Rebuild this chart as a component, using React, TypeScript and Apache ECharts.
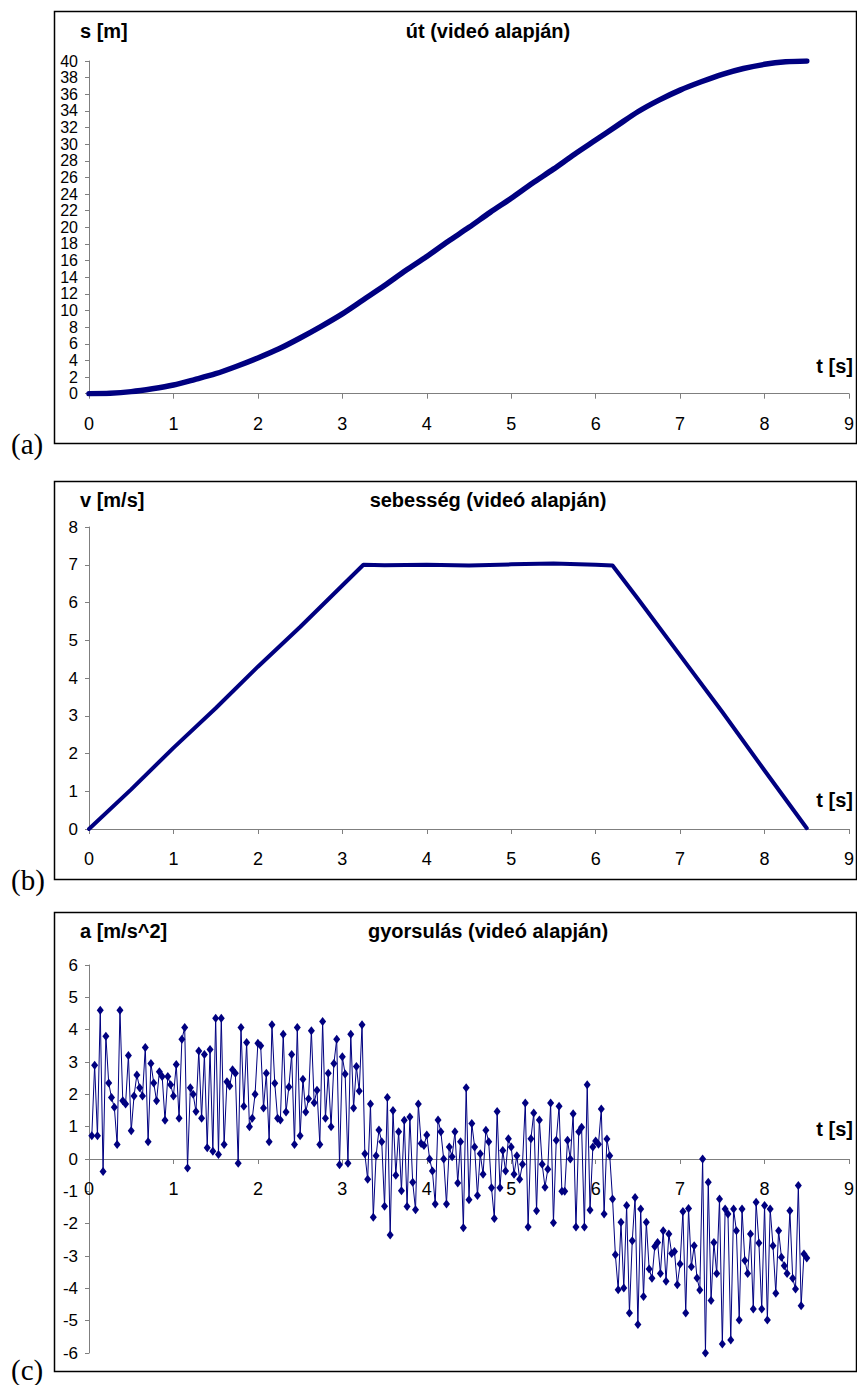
import { useEffect, useRef } from "react";
import * as echarts from "echarts";

// ---------- data ----------
const timeTicks = [0, 1, 2, 3, 4, 5, 6, 7, 8, 9];

// (a) path s [m] vs t [s]
const sTime = [0, 0.25, 0.5, 0.75, 1, 1.25, 1.5, 1.75, 2, 2.25, 2.5, 2.75, 3, 3.25, 3.5, 3.75, 4, 4.25, 4.5, 4.75, 5, 5.25, 5.5, 5.75, 6, 6.25, 6.5, 6.75, 7, 7.25, 7.5, 7.75, 8, 8.25, 8.5];
const sValues = [0, 0.05, 0.25, 0.6, 1.05, 1.7, 2.4, 3.3, 4.3, 5.4, 6.7, 8.1, 9.6, 11.3, 13.0, 14.8, 16.5, 18.3, 20.0, 21.8, 23.5, 25.3, 27.0, 28.8, 30.5, 32.2, 33.9, 35.3, 36.5, 37.5, 38.4, 39.1, 39.6, 39.9, 40.0];

// (b) velocity v [m/s] vs t [s]
const vTime = [0, 0.5, 1, 1.5, 2, 2.5, 3, 3.25, 3.5, 4, 4.5, 5, 5.5, 6, 6.2, 6.5, 7, 7.5, 8, 8.5];
const vValues = [0, 1.05, 2.15, 3.2, 4.3, 5.35, 6.45, 7.0, 6.99, 7.0, 6.98, 7.01, 7.03, 7.0, 6.98, 6.1, 4.6, 3.1, 1.55, 0.02];

// (c) acceleration a [m/s^2], one sample per video frame (30 fps)
const accStep = 1 / 30;
const accSeg0 = [0.72, 2.9, 0.72, 4.6, -0.39, 3.8, 2.35, 1.9, 1.6, 0.45, 4.6, 1.8, 1.7, 3.2, 0.87, 1.95, 2.6, 2.2, 1.95, 3.45, 0.53, 2.95, 2.35, 1.8, 2.7, 2.55, 1.2, 2.55, 2.3, 1.95];
const accSeg1 = [2.92, 1.26, 3.7, 4.07, -0.28, 2.2, 2.0, 1.47, 3.34, 1.26, 3.23, 0.35, 3.39, 0.24, 4.35, 0.14, 4.35, 0.45, 2.39, 2.26, 2.76, 2.65, -0.13, 4.07, 1.63, 3.6, 1.0, 1.26, 2.0, 3.58];
const accSeg2 = [3.5, 1.58, 2.65, 0.53, 4.15, 2.34, 1.26, 1.21, 3.86, 1.45, 2.23, 3.23, 0.45, 4.07, 0.72, 2.47, 1.45, 1.86, 3.97, 1.74, 2.13, 0.45, 4.25, 1.26, 2.65, 1.0, 2.95, 3.7, -0.18, 3.16];
const accSeg3 = [2.63, -0.13, 3.86, 1.58, 2.86, 2.1, 4.15, 0.16, -0.63, 1.7, -1.8, 0.1, 0.9, 0.53, -1.46, 1.9, -2.35, 1.5, -0.5, 0.84, -0.98, 1.2, -1.47, 1.3, -0.72, -1.57, 1.7, 0.48, 0.42, 0.74];
const accSeg4 = [0, -0.37, -1.39, 1.21, 0.84, 0, -1.39, 0.37, 0.07, 0.84, -0.74, 0.53, -2.13, 2.2, -1.26, 1.1, 0.37, -1.13, 0.16, -0.47, 0.89, 0.53, -0.89, -1.84, 1.47, -0.89, 0.26, -0.37, 0.63, 0.37];
const accSeg5 = [-0.47, 0.1, -0.63, -0.16, 1.73, -2.1, 0.63, 1.42, -1.6, 1.21, -0.16, -0.87, -0.32, 1.73, -1.97, 0.58, 1.63, -1.0, -1.0, 0.58, 0, 1.4, -2.1, 0.84, 0.98, -2.1, 2.3, -1.58, 0.37, 0.56];
const accSeg6 = [0.46, 1.55, -1.7, 0.62, 0.1, -1.24, -2.96, -4.04, -1.96, -3.99, -1.44, -4.76, -2.53, -1.19, -5.12, -1.55, -4.25, -1.96, -3.4, -3.69, -2.71, -2.58, -3.54, -2.22, -3.78, -2.32, -2.92, -2.86, -3.89, -3.25];
const accSeg7 = [-1.62, -4.76, -1.53, -3.33, -2.68, -3.68, -4.05, 0, -6.0, -0.72, -4.38, -2.58, -3.54, -1.24, -5.72, -1.55, -1.7, -5.6, -1.55, -2.22, -4.98, -1.55, -3.14, -3.54, -2.32, -4.64, -1.34, -2.6, -4.64, -1.44];
const accSeg8 = [-4.98, -1.55, -2.68, -4.15, -2.22, -3.04, -3.3, -3.54, -1.6, -3.69, -4.02, -0.82, -4.54, -2.94, -3.06];

const titles = ["út (videó alapján)", "sebesség (videó alapján)", "gyorsulás (videó alapján)"];
const yNames = ["s [m]", "v [m/s]", "a [m/s^2]"];
const xName = "t [s]";
const panelLabels = ["(a)", "(b)", "(c)"];

// ---------- helpers ----------
const NAVY = "#000080";
const AXIS = "#7f7f7f";
const SANS = "Arial";
const SERIF = "Times New Roman";

function xAxisFor(gridIndex: number, offset: number) {
  return {
    type: "value",
    gridIndex,
    min: timeTicks[0],
    max: timeTicks[timeTicks.length - 1],
    interval: 1,
    offset,
    axisLine: { show: true, onZero: false, lineStyle: { color: AXIS, width: 1 } },
    axisTick: { show: true, inside: false, length: 5, lineStyle: { color: AXIS } },
    axisLabel: { fontFamily: SANS, fontSize: 18, color: "#000", margin: 21, showMinLabel: true, showMaxLabel: true },
    splitLine: { show: false },
  };
}

function yAxisFor(gridIndex: number, min: number, max: number, interval: number, fontSize: number) {
  return {
    type: "value",
    gridIndex,
    min,
    max,
    interval,
    axisLine: { show: true, onZero: false, lineStyle: { color: AXIS, width: 1 } },
    axisTick: { show: true, inside: false, length: 4, lineStyle: { color: AXIS } },
    axisLabel: { fontFamily: SANS, fontSize, lineHeight: fontSize, color: "#000", margin: 11, showMinLabel: true, showMaxLabel: true },
    splitLine: { show: false },
  };
}

const boxes = [
  { top: 11.5, bottom: 443.5 },
  { top: 481.5, bottom: 879.5 },
  { top: 912.5, bottom: 1371.5 },
];
const titleY = [31, 500, 931];
const xNameY = [366, 800, 1129];
const panelLabelY = [444, 880, 1370];

// plot-area geometry (pixels)
const grids = [
  { top: 61, height: 332.7 },
  { top: 527, height: 302 },
  { top: 965, height: 388 },
];
// (c): x axis sits on a = 0, i.e. half-way down its grid
const cZeroOffset = -grids[2].height / 2;

export default function App() {
  const ref = useRef<HTMLDivElement>(null);

  useEffect(() => {
    const chart = echarts.init(ref.current!, null, { renderer: "svg" });

    const sData = sTime.map((t, i) => [t, sValues[i]]);
    const vData = vTime.map((t, i) => [t, vValues[i]]);
    const accValues = [...accSeg0, ...accSeg1, ...accSeg2, ...accSeg3, ...accSeg4, ...accSeg5, ...accSeg6, ...accSeg7, ...accSeg8];
    const aData = accValues.map((v, i) => [(i + 1) * accStep, v]);

    const graphic: any[] = [];
    boxes.forEach((b, i) => {
      graphic.push({
        type: "rect",
        z: -1,
        shape: { x: 54.5, y: b.top, width: 802, height: b.bottom - b.top },
        style: { fill: "#fff", stroke: "#000", lineWidth: 1.5 },
      });
      graphic.push({
        type: "text",
        x: 488,
        y: titleY[i],
        style: { text: titles[i], fontFamily: SANS, fontWeight: "bold", fontSize: 20, fill: "#000", align: "center", verticalAlign: "middle" },
      });
      graphic.push({
        type: "text",
        x: 80,
        y: titleY[i],
        style: { text: yNames[i], fontFamily: SANS, fontWeight: "bold", fontSize: 20, fill: "#000", align: "left", verticalAlign: "middle" },
      });
      graphic.push({
        type: "text",
        x: 853,
        y: xNameY[i],
        style: { text: xName, fontFamily: SANS, fontWeight: "bold", fontSize: 20, fill: "#000", align: "right", verticalAlign: "middle" },
      });
      graphic.push({
        type: "text",
        x: 11,
        y: panelLabelY[i],
        style: { text: panelLabels[i], fontFamily: SERIF, fontSize: 29, fill: "#000", align: "left", verticalAlign: "middle" },
      });
    });

    const option: any = {
      animation: false,
      backgroundColor: "#fff",
      grid: grids.map((g) => ({ left: 89, right: 6, top: g.top, height: g.height })),
      xAxis: [xAxisFor(0, 0), xAxisFor(1, 0), xAxisFor(2, cZeroOffset)],
      yAxis: [yAxisFor(0, 0, 40, 2, 16), yAxisFor(1, 0, 8, 1, 17), yAxisFor(2, -6, 6, 1, 17)],
      graphic,
      series: [
        {
          type: "line",
          xAxisIndex: 0,
          yAxisIndex: 0,
          data: sData,
          showSymbol: false,
          smooth: 0.3,
          lineStyle: { color: NAVY, width: 5.5, cap: "round", join: "round" },
        },
        {
          type: "line",
          xAxisIndex: 1,
          yAxisIndex: 1,
          data: vData,
          showSymbol: false,
          lineStyle: { color: NAVY, width: 4, cap: "round", join: "round" },
        },
        {
          type: "line",
          xAxisIndex: 2,
          yAxisIndex: 2,
          data: aData,
          showSymbol: true,
          showAllSymbol: true,
          symbol: "diamond",
          symbolSize: [7, 9],
          itemStyle: { color: NAVY },
          lineStyle: { color: NAVY, width: 1 },
        },
      ],
    };

    chart.setOption(option);
    return () => chart.dispose();
  }, []);

  return (
    <div
      ref={ref}
      style={{ position: "absolute", left: 0, top: 0, width: 857, height: 1385, background: "#fff" }}
    />
  );
}
